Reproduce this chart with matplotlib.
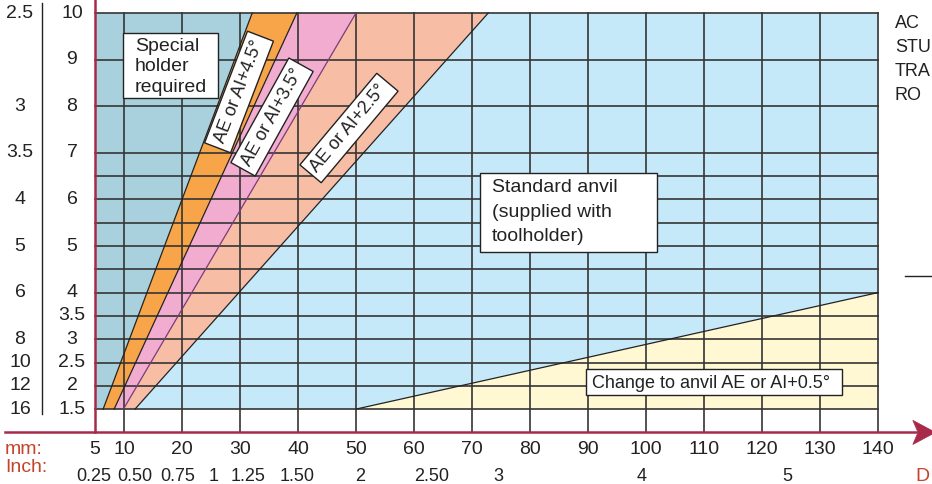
import matplotlib
matplotlib.use('Agg')
import matplotlib.pyplot as plt
from matplotlib.patches import Rectangle, Polygon

plt.rcParams['font.family'] = ['Liberation Sans', 'DejaVu Sans']

# 数据：螺距(mm) 与 每英寸牙数
pitch_levels = [10, 9, 8, 7, 6.5, 6, 5.5, 5, 4.5, 4, 3.5, 3, 2.5, 2, 1.5]
pitch_labels = [10, 9, 8, 7, 6, 5, 4, 3.5, 3, 2.5, 2, 1.5]
tpi_labels = ['2.5', '3', '3.5', '4', '5', '6', '8', '10', '12', '16']
tpi_at_pitch = [10, 8, 7, 6, 5, 4, 3, 2.5, 2, 1.5]

# 直径 mm 刻度和英寸标注
mm_ticks = [5, 10, 20, 30, 40, 50, 60, 70, 80, 90, 100, 110, 120, 130, 140]
grid_x = [10, 20, 30, 40, 50, 60, 70, 80, 90, 100, 110, 120, 130, 140]
inch_labels = ['0.25', '0.50', '0.75', '1', '1.25', '1.50', '2', '2.50', '3', '4', '5']
inch_at_mm = [4.7, 11.9, 19.3, 25.5, 31.4, 39.8, 50.7, 63.1, 74.5, 99.3, 124.3]

# 各区域分界线 (底部 1.5mm 处与顶部 10mm 处的直径)
p_min, p_max = 1.5, 10
d_min, d_max = 5, 140
edge_bottom = [6.4, 8.3, 9.9, 11.9]
edge_top = [32.1, 39.8, 50.0, 72.8]
yellow_start = 50
yellow_end_pitch = 4.0

c_special = '#a9d1dd'
c_orange = '#f7a548'
c_pink = '#f2acd0'
c_salmon = '#f8bea5'
c_blue = '#c6e9f9'
c_yellow = '#fff8d2'
c_red = '#a82a4a'
c_lab = '#c4452b'

fig = plt.figure(figsize=(9.32, 4.84), dpi=100)
ax = fig.add_axes([0, 0, 1, 1])
ax.set_xlim(-11.38, 149.31)
ax.set_ylim(-0.107, 10.279)
ax.axis('off')

b, t = edge_bottom, edge_top
ax.fill([d_min, b[0], t[0], d_min], [p_min, p_min, p_max, p_max], color=c_special, lw=0, zorder=1)
ax.fill([b[0], b[1], t[1], t[0]], [p_min, p_min, p_max, p_max], color=c_orange, lw=0, zorder=1)
ax.fill([b[1], b[2], t[2], t[1]], [p_min, p_min, p_max, p_max], color=c_pink, lw=0, zorder=1)
ax.fill([b[2], b[3], t[3], t[2]], [p_min, p_min, p_max, p_max], color=c_salmon, lw=0, zorder=1)
ax.fill([b[3], yellow_start, d_max, d_max, t[3]], [p_min, p_min, yellow_end_pitch, p_max, p_max],
        color=c_blue, lw=0, zorder=1)
ax.fill([yellow_start, d_max, d_max], [p_min, p_min, yellow_end_pitch], color=c_yellow, lw=0, zorder=1)

# 网格线
for p in pitch_levels:
    ax.plot([d_min, d_max], [p, p], color='#353535', lw=1.2, zorder=2)
for x in grid_x:
    ax.plot([x, x], [1.0, p_max], color='#353535', lw=1.2, zorder=2)

# 分界线
for i in range(4):
    col = '#7a3a78' if i == 2 else '#222222'
    ax.plot([b[i], t[i]], [p_min, p_max], color=col, lw=0.9, zorder=3)
ax.plot([yellow_start, d_max], [p_min, yellow_end_pitch], color='#222222', lw=0.9, zorder=3)

# 坐标轴
ax.plot([5, 5], [1.0, 10.279], color=c_red, lw=1.8, zorder=4)
ax.plot([-10.52, 146.5], [1.0, 1.0], color=c_red, lw=1.8, zorder=4)
ax.add_patch(Polygon([[146.0, 1.26], [149.9, 1.0], [146.0, 0.74], [146.9, 1.0]],
                     closed=True, fc=c_red, ec=c_red, lw=0.5, zorder=4))
ax.plot([-4.14, -4.14], [1.395, 10.215], color='#222222', lw=1.0)

# 左侧标注
for p in pitch_labels:
    ax.text(1.03, p, str(p), ha='center', va='center', fontsize=14, color='#222')
for lab, p in zip(tpi_labels, tpi_at_pitch):
    ax.text(-7.93, p, lab, ha='center', va='center', fontsize=14, color='#222')

# 底部标注
ax.text(-10.52, 0.63, 'mm:', ha='left', va='center', fontsize=14, color=c_lab)
ax.text(-10.52, 0.25, 'Inch:', ha='left', va='center', fontsize=14, color=c_lab)
for m in mm_ticks:
    ax.text(m, 0.63, str(m), ha='center', va='center', fontsize=14, color='#222')
for lab, m in zip(inch_labels, inch_at_mm):
    ax.text(m, 0.06, lab, ha='center', va='center', fontsize=13, color='#222',
            family=['Liberation Sans Narrow', 'DejaVu Sans Condensed', 'Liberation Sans'])
ax.text(146.4, 0.06, 'D', ha='left', va='center', fontsize=14, color=c_lab)

# 文字框
ax.add_patch(Rectangle((9.83, 8.176), 26.2 - 9.83, 9.571 - 8.176, fc='white', ec='#222', lw=1.0, zorder=5))
for k, s in enumerate(['Special', 'holder', 'required']):
    ax.text(11.9, 9.29 - k * 0.44, s, ha='left', va='center', fontsize=14, color='#222', zorder=6)

ax.add_patch(Rectangle((71.4, 4.871), 101.9 - 71.4, 6.567 - 4.871, fc='white', ec='#222', lw=1.0, zorder=5))
for k, s in enumerate(['Standard anvil', '(supplied with', 'toolholder)']):
    ax.text(73.45, 6.25 - k * 0.526, s, ha='left', va='center', fontsize=14, color='#222', zorder=6)

ax.add_patch(Rectangle((89.66, 1.803), 133.8 - 89.66, 2.361 - 1.803, fc='white', ec='#222', lw=1.0, zorder=5))
ax.text(90.7, 2.06, 'Change to anvil AE or AI+0.5°', ha='left', va='center', fontsize=13,
        color='#222', zorder=6)

box = dict(boxstyle='square,pad=0.3', fc='white', ec='#222', lw=1.0)
ax.text(29.83, 8.305, 'AE or AI+4.5°', rotation=69, rotation_mode='anchor', ha='center', va='center',
        fontsize=13, color='#222', bbox=box, zorder=6)
ax.text(35.52, 7.768, 'AE or AI+3.5°', rotation=61, rotation_mode='anchor', ha='center', va='center',
        fontsize=13, color='#222', bbox=box, zorder=6)
ax.text(48.79, 7.532, 'AE or AI+2.5°', rotation=50, rotation_mode='anchor', ha='center', va='center',
        fontsize=13, color='#222', bbox=box, zorder=6)

# 右侧被截断的文字 (只保留可见部分)
for k, s in enumerate(['AC', 'STU', 'TRA', 'RO']):
    ax.text(142.9, 9.78 - k * 0.52, s, ha='left', va='center', fontsize=13, color='#222')
ax.plot([144.66, 149.31], [4.356, 4.356], color='#222', lw=1.0)

fig.savefig('out.png', dpi=100)
